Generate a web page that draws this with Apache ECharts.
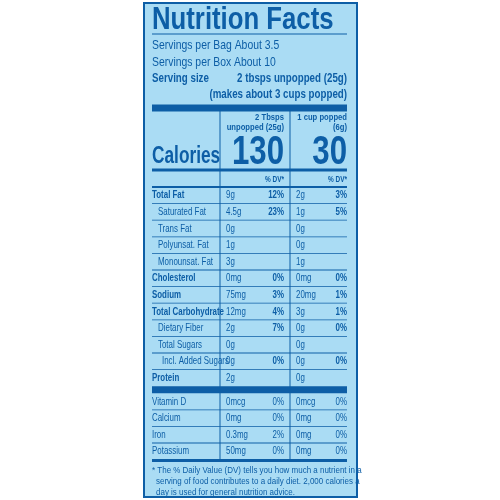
<!DOCTYPE html>
<html>
<head>
<meta charset="utf-8">
<script src="https://cdn.jsdelivr.net/npm/echarts@6/dist/echarts.min.js"></script>
<style>html,body{margin:0;padding:0;background:#fff}#main{width:500px;height:500px}</style>
</head>
<body>
<div id="main"></div>
<script>
// textos del encabezado
const servingLines = ["Servings per Bag About 3.5", "Servings per Box About 10"];
const columnHeads = [["2 Tbsps", "unpopped (25g)"], ["1 cup popped", "(6g)"]];
const calories = [130, 30];

// tabla principal (level 0 = nutriente, 1 = sub, 2 = sub-sub)
const nutrients = ["Total Fat", "Saturated Fat", "Trans Fat", "Polyunsat. Fat", "Monounsat. Fat",
  "Cholesterol", "Sodium", "Total Carbohydrate", "Dietary Fiber", "Total Sugars", "Incl. Added Sugars", "Protein"];
const levels = [0, 1, 1, 1, 1, 0, 0, 0, 1, 1, 2, 0];
const amountUnpopped = ["9g", "4.5g", "0g", "1g", "3g", "0mg", "75mg", "12mg", "2g", "0g", "0g", "2g"];
const dvUnpopped = ["12%", "23%", "", "", "", "0%", "3%", "4%", "7%", "", "0%", ""];
const amountPopped = ["2g", "1g", "0g", "0g", "1g", "0mg", "20mg", "3g", "0g", "0g", "0g", "0g"];
const dvPopped = ["3%", "5%", "", "", "", "0%", "1%", "1%", "0%", "", "0%", ""];

// vitaminas y minerales
const vitamins = ["Vitamin D", "Calcium", "Iron", "Potassium"];
const vitAmountUnpopped = ["0mcg", "0mg", "0.3mg", "50mg"];
const vitDvUnpopped = ["0%", "0%", "2%", "0%"];
const vitAmountPopped = ["0mcg", "0mg", "0mg", "0mg"];
const vitDvPopped = ["0%", "0%", "0%", "0%"];

const footnote = ["* The % Daily Value (DV) tells you how much a nutrient in a",
  "serving of food contributes to a daily diet. 2,000 calories a",
  "day is used for general nutrition advice."];

const BLUE = "#0d5ea6";
const BG = "#aadcf4";
const FONT = "'Liberation Sans', Arial, sans-serif";
const L = 152, R = 347, C1 = 220, C2 = 290;

const els = [];
// sx = compresión horizontal (no hay fuente condensada instalada)
function txt(x, y, s, o, sx) {
  els.push({ type: "text", x: x, y: y, scaleX: sx || 0.72, style: Object.assign({
    text: s, fill: BLUE, fontFamily: FONT, fontSize: 11, textVerticalAlign: "middle"
  }, o || {}) });
}
function hline(y, w, x1, x2) {
  els.push({ type: "rect", shape: { x: x1 || L, y: y - w / 2, width: (x2 || R) - (x1 || L), height: w },
    style: { fill: BLUE } });
}
function vline(x, y1, y2) {
  els.push({ type: "rect", shape: { x: x - 0.5, y: y1, width: 1, height: y2 - y1 }, style: { fill: BLUE } });
}

// panel
els.push({ type: "rect", shape: { x: 144, y: 3, width: 213, height: 494 },
  style: { fill: BG, stroke: BLUE, lineWidth: 2 } });

txt(L, 20, "Nutrition Facts", { fontSize: 31, fontWeight: "bold" }, 0.83);
hline(34, 1);
servingLines.forEach((s, i) => txt(L, 45 + i * 17, s, { fontSize: 13 }, 0.8));
txt(L, 78, "Serving size", { fontSize: 13, fontWeight: "bold" }, 0.75);
txt(R, 78, "2 tbsps unpopped (25g)", { fontSize: 13, fontWeight: "bold", textAlign: "right" }, 0.75);
txt(R, 94, "(makes about 3 cups popped)", { fontSize: 13, fontWeight: "bold", textAlign: "right" }, 0.75);
hline(108, 7);

// cabeceras de columnas
columnHeads.forEach((h, i) => {
  const xr = i === 0 ? C2 - 6 : R;
  txt(xr, 118, h[0], { fontSize: 9, fontWeight: "bold", textAlign: "right" }, 0.85);
  txt(xr, 128, h[1], { fontSize: 9, fontWeight: "bold", textAlign: "right" }, 0.85);
  txt(xr, 153, String(calories[i]), { fontSize: 40, fontWeight: "bold", textAlign: "right" }, 0.78);
});
txt(L, 156, "Calories", { fontSize: 24, fontWeight: "bold" }, 0.72);
hline(170, 3);
txt(C2 - 6, 180, "% DV*", { fontSize: 9, fontWeight: "bold", textAlign: "right" });
txt(R, 180, "% DV*", { fontSize: 9, fontWeight: "bold", textAlign: "right" });
hline(187, 2);

const rowH = 16.6, y0 = 187;
function row(y, name, lvl, a1, d1, a2, d2, boldName, boldDv, isLast) {
  const cy = y + rowH / 2;
  txt(L + (lvl ? 2 + 4 * lvl : 0), cy, name, { fontSize: 11, fontWeight: boldName ? "bold" : "normal" });
  txt(C1 + 6, cy, a1, { fontSize: 11 });
  txt(C2 - 6, cy, d1, { fontSize: 11, textAlign: "right", fontWeight: boldDv ? "bold" : "normal" });
  txt(C2 + 6, cy, a2, { fontSize: 11 });
  txt(R, cy, d2, { fontSize: 11, textAlign: "right", fontWeight: boldDv ? "bold" : "normal" });
  if (!isLast) hline(y + rowH, 0.8);
}
nutrients.forEach((n, i) => {
  row(y0 + i * rowH, n, levels[i], amountUnpopped[i], dvUnpopped[i], amountPopped[i], dvPopped[i],
    levels[i] === 0, true, i === nutrients.length - 1);
});
const yBar = y0 + nutrients.length * rowH;
hline(yBar + 3.5, 7);
const y1 = yBar + 7;
vitamins.forEach((n, i) => {
  row(y1 + i * rowH, n, 0, vitAmountUnpopped[i], vitDvUnpopped[i], vitAmountPopped[i], vitDvPopped[i],
    false, false, i === vitamins.length - 1);
});
const yEnd = y1 + vitamins.length * rowH;
hline(yEnd + 1, 3);
vline(C1, 110, yEnd);
vline(C2, 110, yEnd);

footnote.forEach((s, i) => txt(L + (i ? 4 : 0), yEnd + 11 + i * 11, s, { fontSize: 9.5 }, 0.84));

const myChart = echarts.init(document.getElementById("main"), null, { renderer: "canvas" });
myChart.setOption({ animation: false, graphic: { elements: els } });
</script>
</body>
</html>
